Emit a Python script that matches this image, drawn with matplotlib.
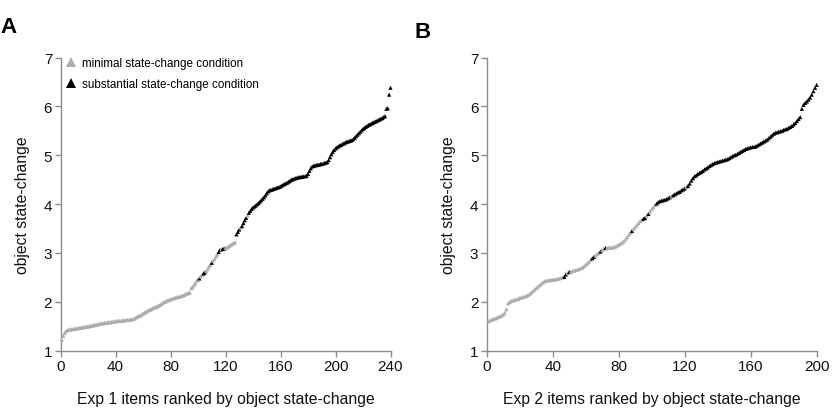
import matplotlib
matplotlib.use("Agg")
import matplotlib.pyplot as plt
from matplotlib.lines import Line2D
import numpy as np

plt.rcParams['font.family'] = ['Liberation Sans', 'DejaVu Sans']

# ---------------- data ----------------
exp1_values = [
    1.22, 1.30, 1.36, 1.40, 1.42, 1.43, 1.43, 1.44, 1.44, 1.45,
    1.45, 1.46, 1.46, 1.47, 1.47, 1.48, 1.48, 1.49, 1.49, 1.50,
    1.50, 1.51, 1.51, 1.52, 1.53, 1.53, 1.54, 1.55, 1.55, 1.56,
    1.56, 1.57, 1.57, 1.58, 1.58, 1.58, 1.59, 1.59, 1.60, 1.60,
    1.60, 1.61, 1.61, 1.61, 1.62, 1.62, 1.62, 1.63, 1.63, 1.63,
    1.64, 1.64, 1.65, 1.66, 1.68, 1.70, 1.71, 1.72, 1.74, 1.76,
    1.78, 1.79, 1.81, 1.83, 1.84, 1.85, 1.87, 1.88, 1.89, 1.90,
    1.92, 1.93, 1.95, 1.97, 1.99, 2.00, 2.02, 2.03, 2.04, 2.05,
    2.06, 2.07, 2.08, 2.09, 2.10, 2.10, 2.11, 2.12, 2.13, 2.14,
    2.16, 2.17, 2.18, 2.19, 2.28, 2.30, 2.34, 2.38, 2.43, 2.45,
    2.48, 2.52, 2.55, 2.58, 2.60, 2.63, 2.67, 2.72, 2.76, 2.80,
    2.84, 2.88, 2.93, 2.97, 3.02, 3.06, 3.07, 3.08, 3.09, 3.10,
    3.11, 3.13, 3.15, 3.17, 3.19, 3.20, 3.22, 3.38, 3.43, 3.48,
    3.52, 3.55, 3.61, 3.67, 3.72, 3.77, 3.82, 3.86, 3.90, 3.93,
    3.95, 3.97, 4.00, 4.02, 4.05, 4.08, 4.11, 4.14, 4.18, 4.22,
    4.26, 4.28, 4.29, 4.30, 4.31, 4.32, 4.33, 4.34, 4.35, 4.36,
    4.38, 4.40, 4.41, 4.43, 4.44, 4.46, 4.48, 4.50, 4.51, 4.52,
    4.53, 4.54, 4.55, 4.55, 4.56, 4.56, 4.57, 4.57, 4.58, 4.62,
    4.68, 4.73, 4.77, 4.78, 4.79, 4.80, 4.80, 4.81, 4.82, 4.82,
    4.83, 4.84, 4.85, 4.86, 4.90, 4.96, 5.02, 5.07, 5.11, 5.14,
    5.16, 5.18, 5.20, 5.21, 5.23, 5.24, 5.26, 5.27, 5.28, 5.29,
    5.30, 5.31, 5.33, 5.36, 5.39, 5.42, 5.45, 5.48, 5.51, 5.54,
    5.56, 5.58, 5.60, 5.62, 5.63, 5.65, 5.66, 5.68, 5.69, 5.70,
    5.72, 5.73, 5.75, 5.76, 5.78, 5.80, 5.95, 5.96, 6.24, 6.38,
]
# ranks (inclusive ranges) belonging to the substantial state-change condition
exp1_substantial = [(101, 101), (104, 105), (110, 110), (115, 116), (118, 119),
                    (128, 130), (132, 135), (137, 240)]

exp2_values = [
    1.60, 1.62, 1.63, 1.65, 1.66, 1.67, 1.69, 1.70, 1.72, 1.74,
    1.78, 1.85, 1.97, 2.00, 2.02, 2.03, 2.04, 2.05, 2.06, 2.08,
    2.09, 2.10, 2.11, 2.12, 2.14, 2.16, 2.19, 2.22, 2.25, 2.28,
    2.31, 2.34, 2.37, 2.40, 2.42, 2.43, 2.44, 2.44, 2.45, 2.45,
    2.46, 2.46, 2.47, 2.48, 2.49, 2.50, 2.51, 2.56, 2.59, 2.61,
    2.62, 2.63, 2.64, 2.65, 2.66, 2.67, 2.69, 2.70, 2.73, 2.76,
    2.79, 2.82, 2.86, 2.89, 2.92, 2.95, 2.98, 3.00, 3.03, 3.06,
    3.09, 3.10, 3.10, 3.11, 3.11, 3.11, 3.12, 3.13, 3.15, 3.17,
    3.19, 3.21, 3.24, 3.28, 3.32, 3.37, 3.41, 3.45, 3.49, 3.53,
    3.57, 3.61, 3.65, 3.68, 3.70, 3.72, 3.76, 3.80, 3.85, 3.90,
    3.94, 3.98, 4.01, 4.04, 4.06, 4.07, 4.08, 4.09, 4.10, 4.12,
    4.14, 4.16, 4.18, 4.20, 4.22, 4.24, 4.25, 4.28, 4.30, 4.32,
    4.35, 4.37, 4.42, 4.48, 4.53, 4.57, 4.59, 4.62, 4.64, 4.66,
    4.68, 4.71, 4.73, 4.75, 4.78, 4.80, 4.82, 4.84, 4.85, 4.86,
    4.87, 4.88, 4.89, 4.90, 4.91, 4.92, 4.94, 4.96, 4.98, 5.00,
    5.01, 5.03, 5.05, 5.07, 5.09, 5.11, 5.13, 5.14, 5.15, 5.16,
    5.17, 5.17, 5.18, 5.20, 5.22, 5.24, 5.26, 5.28, 5.30, 5.32,
    5.35, 5.38, 5.41, 5.44, 5.46, 5.47, 5.48, 5.49, 5.50, 5.52,
    5.53, 5.54, 5.56, 5.58, 5.60, 5.63, 5.66, 5.70, 5.74, 5.78,
    5.95, 6.03, 6.07, 6.10, 6.14, 6.18, 6.24, 6.31, 6.38, 6.44,
]
exp2_substantial = [(47, 48), (50, 50), (64, 65), (69, 69), (72, 72), (88, 88),
                    (95, 96), (98, 98), (103, 111), (113, 120), (122, 200)]

x_ticks_A = [0, 40, 80, 120, 160, 200, 240]
x_ticks_B = [0, 40, 80, 120, 160, 200]
y_ticks = [1, 2, 3, 4, 5, 6, 7]
legend_labels = ["minimal state-change condition", "substantial state-change condition"]
xlabels = ["Exp 1 items ranked by object state-change", "Exp 2 items ranked by object state-change"]
ylabel = "object state-change"

GRAY = "#adadad"
BLACK = "#000000"
AXCOL = "#8c8c8c"


def colors_for(values, ranges):
    cols = []
    for r in range(1, len(values) + 1):
        black = any(a <= r <= b for a, b in ranges)
        cols.append(BLACK if black else GRAY)
    return cols


fig = plt.figure(figsize=(8.36, 4.10), dpi=100)
W, H = 836, 410


def make_ax(left_px, right_px, xticks, xmax):
    bottom_px, top_px = 351.7, 58.5
    ax = fig.add_axes([left_px / W, (H - bottom_px) / H,
                       (right_px - left_px) / W, (bottom_px - top_px) / H])
    ax.set_xlim(0, xmax)
    ax.set_ylim(1, 7)
    ax.set_xticks(xticks)
    ax.set_yticks(y_ticks)
    for s in ["top", "right"]:
        ax.spines[s].set_visible(False)
    for s in ["left", "bottom"]:
        ax.spines[s].set_color(AXCOL)
        ax.spines[s].set_linewidth(1.0)
    ax.tick_params(axis="both", direction="out", length=4, width=1.0,
                   color=AXCOL, labelsize=11, labelcolor="#111111", pad=2)
    return ax


axA = make_ax(60.5, 390.5, x_ticks_A, 240)
axB = make_ax(486.7, 816.7, x_ticks_B, 200)

for ax, vals, rng, xl in [(axA, exp1_values, exp1_substantial, xlabels[0]),
                          (axB, exp2_values, exp2_substantial, xlabels[1])]:
    ranks = np.arange(1, len(vals) + 1)
    cols = colors_for(vals, rng)
    ax.scatter(ranks, vals, marker="^", s=9, c=cols, linewidths=0, clip_on=False, zorder=3)
    ax.set_xlabel(xl, fontsize=11.3, labelpad=13, color="#111111")
    ax.set_ylabel(ylabel, fontsize=11.3, labelpad=10, color="#111111")

handles = [Line2D([], [], linestyle="none", marker="^", markersize=6.5, color=GRAY, markeredgewidth=0),
           Line2D([], [], linestyle="none", marker="^", markersize=6.5, color=BLACK, markeredgewidth=0)]
axA.legend(handles, legend_labels, loc="upper left", bbox_to_anchor=(0.014, 1.0),
           frameon=False, fontsize=8.4, handlelength=1.0, handletextpad=0.45,
           labelspacing=0.75, borderaxespad=0.0, borderpad=0.0)

fig.text(0 / W, 1 - 33 / H, "A", fontsize=16, fontweight="bold", ha="left", va="baseline")
fig.text(415 / W, 1 - 38 / H, "B", fontsize=16, fontweight="bold", ha="left", va="baseline")

fig.savefig("out.png", dpi=100)
